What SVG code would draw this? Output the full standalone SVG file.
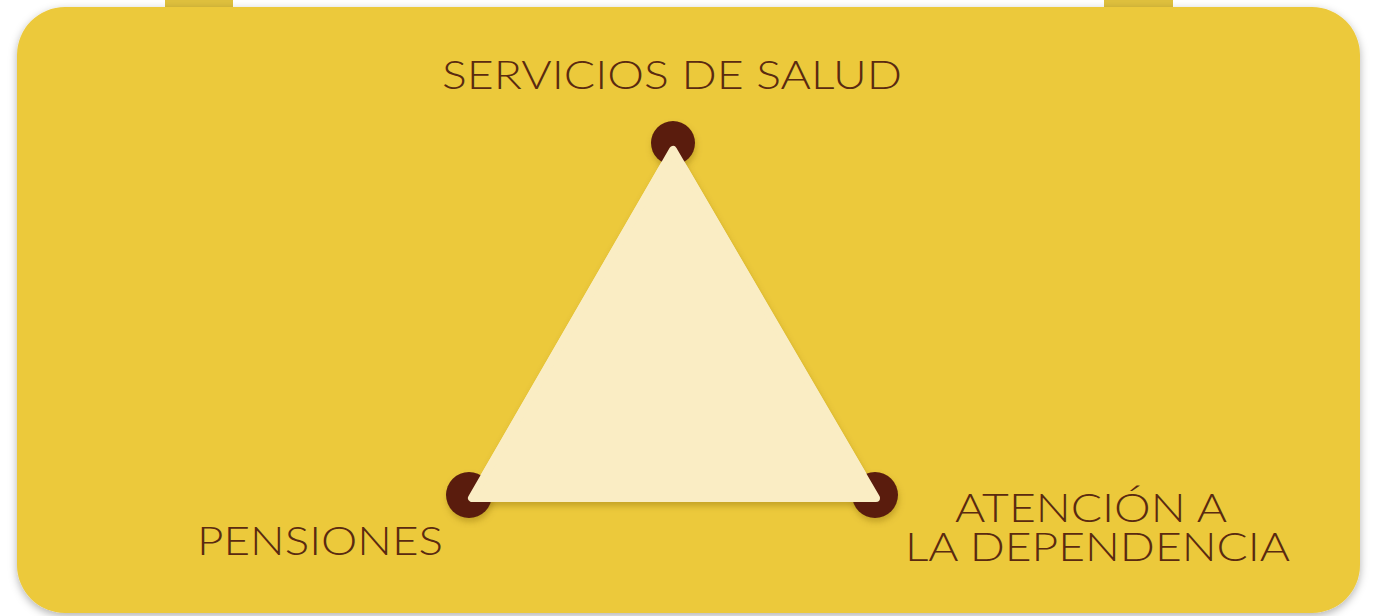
<svg xmlns="http://www.w3.org/2000/svg" width="1375" height="616" viewBox="0 0 1375 616">
<defs>
<filter id="boxShadow" x="-5%" y="-5%" width="110%" height="110%">
<feDropShadow dx="0" dy="3" stdDeviation="4" flood-color="#000" flood-opacity="0.3"/>
</filter>
<filter id="softShadow" x="-20%" y="-20%" width="140%" height="140%">
<feDropShadow dx="1" dy="4" stdDeviation="3" flood-color="#7a5a00" flood-opacity="0.35"/>
</filter>
</defs>
<style>
.lbl{font-family:Lato,"Liberation Sans",sans-serif;font-size:39px;font-weight:300;fill:#5a2a10;}
.dot{fill:#5a1e0e;}
.tab{fill:#dfc03d;}
</style>
<rect width="1375" height="616" fill="#ffffff"/>
<g id="frame">
<rect class="tab" x="165" y="0" width="68" height="14"/>
<rect class="tab" x="1104" y="0" width="69" height="14"/>
<rect x="17" y="7" width="1343" height="606" rx="48" ry="48" fill="#ecc93b" filter="url(#boxShadow)"/>
</g>
<g id="connectors">
<polygon points="673,150 472,498 876,498" fill="#faedc4" stroke="#faedc4" stroke-width="8" stroke-linejoin="round" filter="url(#softShadow)"/>
</g>
<g id="node-salud">
<circle class="dot" cx="673" cy="143" r="22" filter="url(#softShadow)"/>
<text class="lbl" x="442" y="89" textLength="460" lengthAdjust="spacingAndGlyphs">SERVICIOS DE SALUD</text>
</g>
<g id="node-pensiones">
<circle class="dot" cx="469" cy="495" r="23" filter="url(#softShadow)"/>
<text class="lbl" x="197" y="555" textLength="246" lengthAdjust="spacingAndGlyphs">PENSIONES</text>
</g>
<g id="node-dependencia">
<circle class="dot" cx="875" cy="495" r="23" filter="url(#softShadow)"/>
<text class="lbl"><tspan x="955" y="522" textLength="272" lengthAdjust="spacingAndGlyphs">ATENCIÓN A</tspan><tspan x="905" y="561" textLength="385" lengthAdjust="spacingAndGlyphs">LA DEPENDENCIA</tspan></text>
</g>
<g id="triangle-top">
<polygon points="673,150 472,498 876,498" fill="#faedc4" stroke="#faedc4" stroke-width="8" stroke-linejoin="round"/>
</g>
</svg>
